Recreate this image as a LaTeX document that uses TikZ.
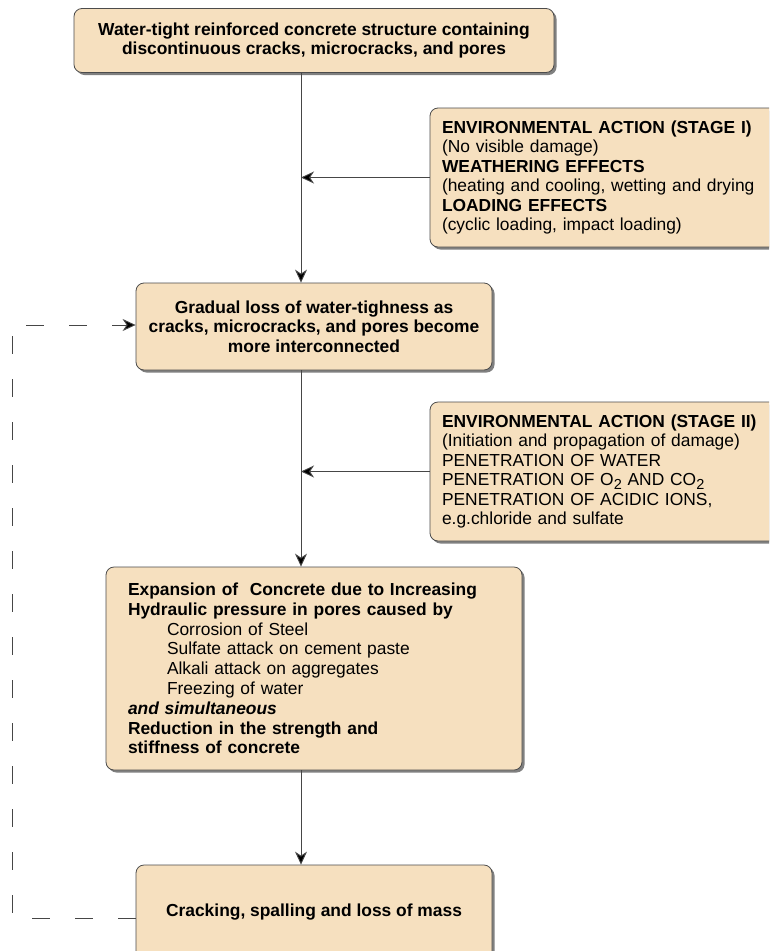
\documentclass[tikz,border=0pt]{standalone}
\usepackage{fontspec}
\setmainfont{Liberation Sans}
\usetikzlibrary{arrows.meta,shadows}
\definecolor{boxfill}{RGB}{246,224,191}
\definecolor{lineg}{RGB}{70,70,70}
\newcommand{\lowtwo}[1]{\raisebox{-3.5pt}{\fontsize{14.5}{14.5}\selectfont #1}}
\begin{document}
\begin{tikzpicture}[x=1pt,y=-1pt,
  font=\fontsize{17.4}{19.4}\selectfont,
  box/.style={draw=black!70, line width=0.8pt, fill=boxfill, rounded corners=8pt,
    drop shadow={shadow xshift=2.5pt, shadow yshift=-2.5pt, fill=black!50, opacity=1},
    inner ysep=0pt},
  lbox/.style={box, align=left, inner xsep=12pt, text width=336pt, minimum height=139pt},
  cbox/.style={box, align=center, inner xsep=0pt, minimum width=356pt},
  conn/.style={draw=lineg, line width=0.9pt, -{Stealth[length=13pt,width=12pt,inset=4pt,fill=black]}},
  dashconn/.style={draw=lineg, line width=0.9pt, dash pattern=on 18pt off 25pt, -{Stealth[length=13pt,width=12pt,inset=4pt,fill=black]}}
]
\fill[white] (0,0) rectangle (769,951);
\useasboundingbox (0,0) rectangle (769,951);
\clip (0,0) rectangle (769,951);

\node[cbox, minimum width=480pt, minimum height=64pt] (b1) at (314,40.5)
  {\textbf{Water-tight reinforced concrete structure containing}\\
   \textbf{discontinuous cracks, microcracks, and pores}};

\node[lbox] (b2) at (610,177.5)
  {\textbf{ENVIRONMENTAL ACTION (STAGE I)}\\
   (No visible damage)\\
   \textbf{WEATHERING EFFECTS}\\
   (heating and cooling, wetting and drying\\
   \textbf{LOADING EFFECTS}\\
   (cyclic loading, impact loading)};

\node[cbox, minimum height=87pt] (b3) at (314,326.5)
  {\textbf{Gradual loss of water-tighness as}\\
   \textbf{cracks, microcracks, and pores become}\\
   \textbf{more interconnected}};

\node[lbox] (b4) at (610,471.5)
  {\textbf{ENVIRONMENTAL ACTION (STAGE II)}\\
   (Initiation and propagation of damage)\\
   PENETRATION OF WATER\\
   PENETRATION OF O\lowtwo{2} AND CO\lowtwo{2}\\
   PENETRATION OF ACIDIC IONS,\\
   e.g.chloride and sulfate};

\node[box, align=left, inner xsep=22pt, text width=372pt, minimum height=203pt,
      font=\fontsize{17.4}{19.8}\selectfont] (b5) at (314,668.5)
  {\textbf{Expansion of\ \ Concrete due to Increasing}\\
   \textbf{Hydraulic pressure in pores caused by}\\
   \hspace*{39pt}Corrosion of Steel\\
   \hspace*{39pt}Sulfate attack on cement paste\\
   \hspace*{39pt}Alkali attack on aggregates\\
   \hspace*{39pt}Freezing of water\\
   \textbf{\itshape and simultaneous}\\
   \textbf{Reduction in the strength and}\\
   \textbf{stiffness of concrete}};

\node[cbox, minimum height=94pt] (b6) at (314,912)
  {\textbf{Cracking, spalling and loss of mass}};

\coordinate (vx) at (301,0);
\coordinate (d1) at (12,325);
\coordinate (d2) at (12,918);

\draw[conn] (b1.south -| vx) -- (b3.north -| vx);
\draw[conn] (b3.south -| vx) -- (b5.north -| vx);
\draw[conn] (b5.south -| vx) -- (b6.north -| vx);
\draw[conn] (b2.west) -- (b2.west -| vx);
\draw[conn] (b4.west) -- (b4.west -| vx);
\draw[dashconn] (b6.west |- d2) -- (d2) -- (d1) -- (b3.west |- d1);
\end{tikzpicture}
\end{document}
